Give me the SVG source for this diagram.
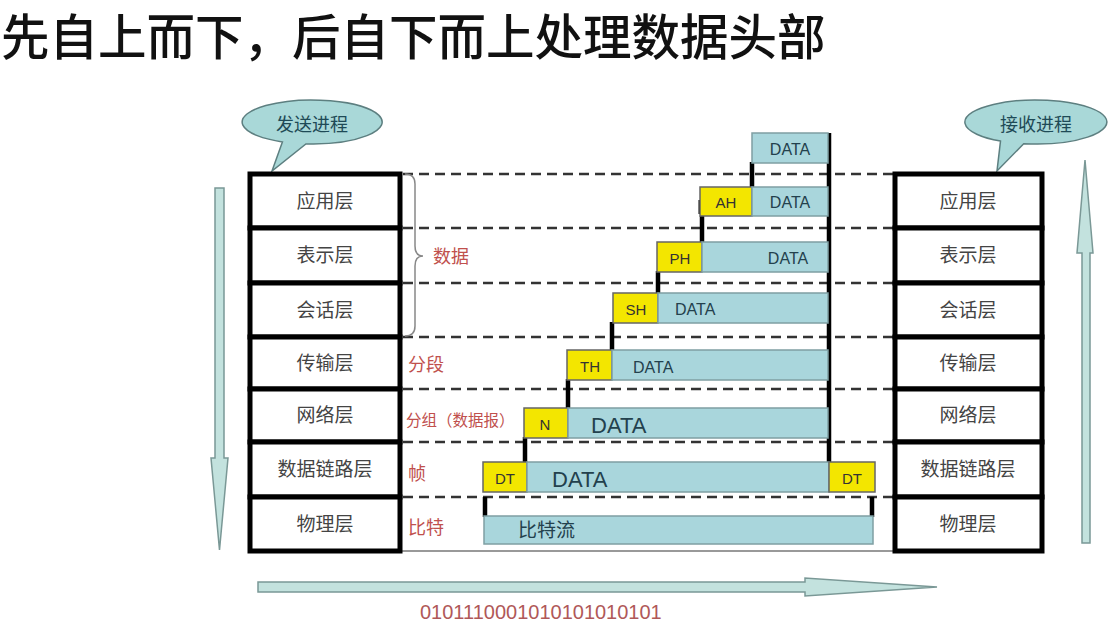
<svg xmlns="http://www.w3.org/2000/svg" width="1113" height="630" viewBox="0 0 1113 630">
<style>
.cjk{font-family:"Noto Sans CJK SC","Noto Sans",sans-serif}
.lat{font-family:"Liberation Sans",Arial,sans-serif}
.layer{fill:#fff;stroke:#000;stroke-width:5}
.ltxt{font-family:"Noto Sans CJK SC",sans-serif;font-size:19px;fill:#444;text-anchor:middle}
.red{font-family:"Noto Sans CJK SC",sans-serif;font-size:18px;fill:#c0504d}
.dash{stroke:#333;stroke-width:2.5;stroke-dasharray:10 6;fill:none}
.data{fill:#a9d6dc;stroke:#7f9fa3;stroke-width:1.5}
.hdr{fill:#f3e600;stroke:#666;stroke-width:1.5}
.dtxt{font-family:"Liberation Sans",Arial,sans-serif;font-size:16px;fill:#23414d}
.big{font-size:22px}
.htxt{font-family:"Liberation Sans",Arial,sans-serif;font-size:15px;fill:#333;text-anchor:middle}
.blk{stroke:#000;stroke-width:4.5;fill:none}
.bubble{fill:#a9d8d8;stroke:#5d7f80;stroke-width:1.5}
.btxt{font-family:"Noto Sans CJK SC",sans-serif;font-size:18px;fill:#1e4a56;text-anchor:middle}
.arrow{fill:#c3e2de;stroke:#7a9896;stroke-width:1.5}
</style>

<text id="title" class="cjk" x="1" y="55" font-size="48.5" font-weight="500" fill="#111">先自上而下，后自下而上处理数据头部</text>

<g id="connectors">
  <line class="dash" x1="403" y1="174" x2="893" y2="174"/>
  <line class="dash" x1="403" y1="228" x2="893" y2="228"/>
  <line class="dash" x1="403" y1="283" x2="893" y2="283"/>
  <line class="dash" x1="403" y1="337" x2="893" y2="337"/>
  <line class="dash" x1="403" y1="389" x2="893" y2="389"/>
  <line class="dash" x1="403" y1="442" x2="893" y2="442"/>
  <line class="dash" x1="403" y1="497" x2="893" y2="497"/>
  <line x1="400" y1="551" x2="893" y2="551" stroke="#999" stroke-width="2"/>
  <path d="M405,174 Q415,174 415,184 L415,246 Q415,256 423,256 Q415,256 415,266 L415,326 Q415,336 405,336" fill="none" stroke="#888" stroke-width="1.5"/>
  <line class="blk" x1="829" y1="133" x2="829" y2="472"/>
  <line class="blk" x1="752" y1="162" x2="752" y2="188"/>
  <line class="blk" x1="700" y1="200" x2="700" y2="214" style="stroke-width:3"/>
  <line class="blk" x1="702" y1="216" x2="702" y2="243"/>
  <line class="blk" x1="658" y1="271" x2="658" y2="294"/>
  <line class="blk" x1="612" y1="322" x2="612" y2="351"/>
  <line class="blk" x1="568" y1="379" x2="568" y2="409"/>
  <line class="blk" x1="525" y1="437" x2="525" y2="463"/>
  <line class="blk" x1="485" y1="497" x2="485" y2="517"/>
  <line class="blk" x1="872" y1="497" x2="872" y2="517"/>
</g>

<g id="send-bubble">
  <path class="bubble" d="M282.4,141.9 L272,171 L305.9,143.9 A70 22 0 1 0 282.4,141.9 Z"/>
  <text class="btxt" x="312" y="131">发送进程</text>
</g>
<g id="recv-bubble">
  <path class="bubble" d="M1000.5,141.1 L997,171 L1023.7,143.7 A71 22 0 1 0 1000.5,141.1 Z"/>
  <text class="btxt" x="1036" y="131">接收进程</text>
</g>

<g id="down-arrow"><path class="arrow" d="M215,188 L224,188 L224,458 L228,458 L219.5,550 L211,458 L215,458 Z"/></g>
<g id="up-arrow"><path class="arrow" d="M1085,160 L1093,253 L1090,253 L1090,543 L1082,543 L1082,253 L1077,253 Z"/></g>
<g id="bit-arrow"><path class="arrow" d="M258,582 L805,582 L805,578 L937,587 L805,596 L805,592 L258,592 Z"/></g>

<g id="send-stack">
  <g id="s-app"><rect class="layer" x="250" y="174" width="150" height="54"/><text class="ltxt" x="325" y="208">应用层</text></g>
  <g id="s-pres"><rect class="layer" x="250" y="228" width="150" height="55"/><text class="ltxt" x="325" y="262">表示层</text></g>
  <g id="s-sess"><rect class="layer" x="250" y="283" width="150" height="54"/><text class="ltxt" x="325" y="317">会话层</text></g>
  <g id="s-trans"><rect class="layer" x="250" y="337" width="150" height="52"/><text class="ltxt" x="325" y="370">传输层</text></g>
  <g id="s-net"><rect class="layer" x="250" y="389" width="150" height="53"/><text class="ltxt" x="325" y="422">网络层</text></g>
  <g id="s-link"><rect class="layer" x="250" y="442" width="150" height="55"/><text class="ltxt" x="325" y="476">数据链路层</text></g>
  <g id="s-phy"><rect class="layer" x="250" y="497" width="150" height="54"/><text class="ltxt" x="325" y="531">物理层</text></g>
</g>

<g id="recv-stack">
  <g id="r-app"><rect class="layer" x="895" y="174" width="147" height="54"/><text class="ltxt" x="968" y="208">应用层</text></g>
  <g id="r-pres"><rect class="layer" x="895" y="228" width="147" height="55"/><text class="ltxt" x="968" y="262">表示层</text></g>
  <g id="r-sess"><rect class="layer" x="895" y="283" width="147" height="54"/><text class="ltxt" x="968" y="317">会话层</text></g>
  <g id="r-trans"><rect class="layer" x="895" y="337" width="147" height="52"/><text class="ltxt" x="968" y="370">传输层</text></g>
  <g id="r-net"><rect class="layer" x="895" y="389" width="147" height="53"/><text class="ltxt" x="968" y="422">网络层</text></g>
  <g id="r-link"><rect class="layer" x="895" y="442" width="147" height="55"/><text class="ltxt" x="968" y="476">数据链路层</text></g>
  <g id="r-phy"><rect class="layer" x="895" y="497" width="147" height="54"/><text class="ltxt" x="968" y="531">物理层</text></g>
</g>

<g id="unit-labels">
  <text class="red" x="433" y="263">数据</text>
  <text class="red" x="408" y="371">分段</text>
  <text class="red" x="406" y="426" style="font-size:15.5px">分组（数据报）</text>
  <text class="red" x="408" y="480">帧</text>
  <text class="red" x="408" y="534">比特</text>
</g>

<g id="pdu-app-data"><rect class="data" x="752" y="133" width="76" height="30"/><text class="dtxt" x="790" y="155" text-anchor="middle">DATA</text></g>
<g id="pdu-app">
  <rect class="hdr" x="700" y="187" width="52" height="29"/><text class="htxt" x="726" y="208">AH</text>
  <rect class="data" x="752" y="187" width="76" height="29"/><text class="dtxt" x="790" y="208" text-anchor="middle">DATA</text>
</g>
<g id="pdu-pres">
  <rect class="hdr" x="657" y="242" width="45" height="30"/><text class="htxt" x="680" y="264">PH</text>
  <rect class="data" x="702" y="242" width="126" height="30"/><text class="dtxt" x="788" y="264" text-anchor="middle">DATA</text>
</g>
<g id="pdu-sess">
  <rect class="hdr" x="613" y="293" width="45" height="30"/><text class="htxt" x="636" y="315">SH</text>
  <rect class="data" x="658" y="293" width="170" height="30"/><text class="dtxt" x="675" y="315">DATA</text>
</g>
<g id="pdu-trans">
  <rect class="hdr" x="567" y="350" width="45" height="30"/><text class="htxt" x="590" y="372">TH</text>
  <rect class="data" x="612" y="350" width="216" height="30"/><text class="dtxt" x="633" y="373">DATA</text>
</g>
<g id="pdu-net">
  <rect class="hdr" x="524" y="408" width="44" height="30"/><text class="htxt" x="545" y="430">N</text>
  <rect class="data" x="568" y="408" width="260" height="30"/><text class="dtxt big" x="591" y="433">DATA</text>
</g>
<g id="pdu-link">
  <rect class="hdr" x="483" y="462" width="44" height="30"/><text class="htxt" x="505" y="484">DT</text>
  <rect class="data" x="527" y="462" width="302" height="30"/><text class="dtxt big" x="552" y="487">DATA</text>
  <rect class="hdr" x="829" y="462" width="46" height="30"/><text class="htxt" x="852" y="484">DT</text>
</g>
<g id="pdu-phy">
  <rect class="data" x="484" y="516" width="389" height="28"/><text class="cjk" x="518" y="537" font-size="19" fill="#23414d">比特流</text>
</g>

<text id="bits" class="lat" x="420" y="619" font-size="20" fill="#b05858">0101110001010101010101</text>
</svg>
